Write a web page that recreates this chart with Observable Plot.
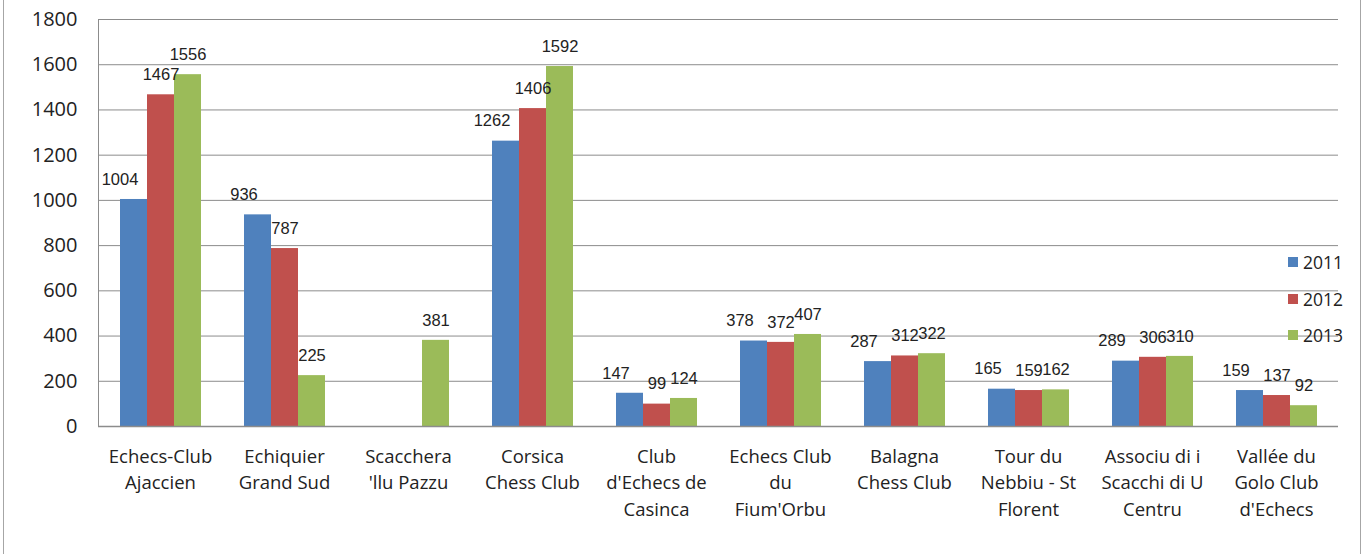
<!DOCTYPE html>
<html>
<head>
<meta charset="utf-8">
<script src="https://cdn.jsdelivr.net/npm/d3@7"></script>
<script src="https://cdn.jsdelivr.net/npm/@observablehq/plot@0.6"></script>
<style>
  html, body { margin: 0; padding: 0; background: #fff; }
  #wrap { position: relative; width: 1366px; height: 554px; overflow: hidden; }
  #border { position: absolute; left: 3px; top: -4px; width: 1358px; height: 570px; border: 1.5px solid #a6a6a6; box-sizing: border-box; }
  #legend { position: absolute; left: 1288px; top: 244px; font-family: "Open Sans", sans-serif; font-size: 17.5px; color: #222; }
  #legend .item { display: flex; align-items: center; height: 36.5px; }
  #legend .sw { width: 10px; height: 10px; margin-right: 5px; }
  svg { position: absolute; left: 0; top: 0; }
</style>
</head>
<body>
<div id="wrap"><div id="border"></div><div id="chart"></div><div id="legend"></div></div>
<script>
const clubs = [
  "Echecs-Club Ajaccien", "Echiquier Grand Sud", "Scacchera 'llu Pazzu", "Corsica Chess Club",
  "Club d'Echecs de Casinca", "Echecs Club du Fium'Orbu", "Balagna Chess Club",
  "Tour du Nebbiu - St Florent", "Associu di i Scacchi di U Centru", "Vallée du Golo Club d'Echecs"
];
const clubLabels = [
  "Echecs-Club\nAjaccien", "Echiquier\nGrand Sud", "Scacchera\n'llu Pazzu", "Corsica\nChess Club",
  "Club\nd'Echecs de\nCasinca", "Echecs Club\ndu\nFium'Orbu", "Balagna\nChess Club",
  "Tour du\nNebbiu - St\nFlorent", "Associu di i\nScacchi di U\nCentru", "Vallée du\nGolo Club\nd'Echecs"
];
const years = ["2011", "2012", "2013"];
const values2011 = [1004, 936, null, 1262, 147, 378, 287, 165, 289, 159];
const values2012 = [1467, 787, null, 1406, 99, 372, 312, 159, 306, 137];
const values2013 = [1556, 225, 381, 1592, 124, 407, 322, 162, 310, 92];
const colors = ["#4f81bd", "#c0504d", "#9bbb59"];
const yTicks = [0, 200, 400, 600, 800, 1000, 1200, 1400, 1600, 1800];

const series = [values2011, values2012, values2013];
const data = [];
clubs.forEach((c, i) => years.forEach((y, j) => {
  const v = series[j][i];
  if (v != null) data.push({club: c, year: y, value: v});
}));
const labelOf = new Map(clubs.map((c, i) => [c, clubLabels[i]]));

const labelStyle = {
  fx: "club", x: "year", y: "value", text: d => String(d.value), dy: -20,
  fontFamily: "Liberation Sans, Arial, sans-serif", fontSize: 16.5, fill: "#222"
};

const chart = Plot.plot({
  width: 1366,
  height: 554,
  marginLeft: 96,
  marginRight: 26,
  marginTop: 19,
  marginBottom: 128,
  style: { fontFamily: "Open Sans, sans-serif", background: "transparent" },
  fx: { domain: clubs, padding: 0, label: null },
  x: { domain: years, paddingInner: 0, paddingOuter: 0.77, axis: null },
  y: { domain: [0, 1800], label: null },
  color: { domain: years, range: colors },
  marks: [
    Plot.gridY(yTicks, { stroke: "#8c8c8c", strokeOpacity: 1, strokeWidth: 1 }),
    Plot.frame({ anchor: "left", facetAnchor: "left", stroke: "#8c8c8c" }),
    Plot.barY(data, { fx: "club", x: "year", y: "value", fill: "year" }),
    Plot.ruleY([0], { stroke: "#8c8c8c", strokeWidth: 1.5 }),
    Plot.text(data.filter(d => d.year === "2011"), { ...labelStyle, dx: -14 }),
    Plot.text(data.filter(d => d.year !== "2011"), { ...labelStyle, dx: 0 }),
    Plot.axisY({ ticks: yTicks, tickFormat: "d", tickSize: 0, tickPadding: 21, fontSize: 20, fill: "#222", label: null }),
    Plot.axisFx({ anchor: "bottom", tickSize: 0, tickPadding: 17, fontSize: 18.5, lineHeight: 1.45,
      tickFormat: d => labelOf.get(d), fill: "#222", label: null })
  ]
});
document.getElementById("chart").appendChild(chart);

const legend = document.getElementById("legend");
years.forEach((y, i) => {
  const item = document.createElement("div");
  item.className = "item";
  const sw = document.createElement("span");
  sw.className = "sw";
  sw.style.background = colors[i];
  const t = document.createElement("span");
  t.textContent = y;
  item.appendChild(sw); item.appendChild(t);
  legend.appendChild(item);
});
</script>
</body>
</html>
